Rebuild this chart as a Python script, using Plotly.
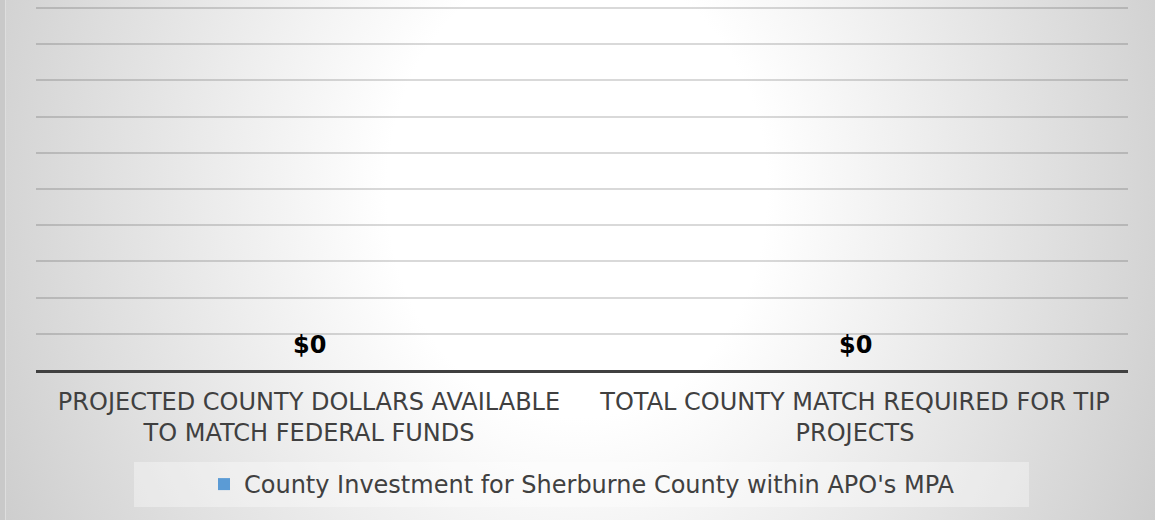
import base64
import plotly.graph_objects as go

categories = ["PROJECTED COUNTY DOLLARS AVAILABLE<br>TO MATCH FEDERAL FUNDS",
              "TOTAL COUNTY MATCH REQUIRED FOR TIP<br>PROJECTS"]
values = [0, 0]
value_labels = ["$0", "$0"]
series_name = "County Investment for Sherburne County within APO's MPA"

W, H = 1155, 520
ML, MR, MT, MB = 36, 27, 0, 150
PW = W - ML - MR
PH = H - MT - MB

svg = f'''<svg xmlns="http://www.w3.org/2000/svg" width="{W}" height="{H}" viewBox="0 0 {W} {H}">
<defs><radialGradient id="g" gradientUnits="userSpaceOnUse" cx="577" cy="190" r="760"
 gradientTransform="translate(577 190) scale(1 1.2) translate(-577 -190)">
<stop offset="0" stop-color="#ffffff"/><stop offset="0.25" stop-color="#ffffff"/>
<stop offset="1" stop-color="#c0c0c0"/></radialGradient></defs>
<rect width="{W}" height="{H}" fill="url(#g)"/>
<rect x="0" y="0" width="5" height="{H}" fill="#c9c9c9"/>
<rect x="5" y="0" width="1" height="{H}" fill="#dedede"/>
</svg>'''
bg = "data:image/svg+xml;base64," + base64.b64encode(svg.encode()).decode()

font = "Verdana, DejaVu Sans, sans-serif"

fig = go.Figure()
fig.add_trace(go.Bar(x=categories, y=values, name=series_name,
                     marker=dict(color="#5b9bd5", line=dict(width=0)),
                     showlegend=True))
for cat, val, lab in zip(categories, values, value_labels):
    fig.add_annotation(x=cat, y=val, text=lab, showarrow=False, yanchor="bottom",
                       yshift=9, font=dict(family=font, size=24, color="#000000", weight="bold"))

step_px = 36.2
fig.update_layout(
    width=W, height=H,
    margin=dict(l=ML, r=MR, t=MT, b=MB, pad=0),
    paper_bgcolor="rgba(0,0,0,0)", plot_bgcolor="rgba(0,0,0,0)",
    font=dict(family=font, color="#404040"),
    images=[dict(source=bg, xref="paper", yref="paper",
                 x=-ML / PW, y=1 + MT / PH, sizex=W / PW, sizey=H / PH,
                 xanchor="left", yanchor="top", sizing="stretch", layer="below")],
    shapes=[dict(type="rect", xref="paper", yref="paper", layer="below",
                 x0=(134 - ML) / PW, x1=(1029 - ML) / PW,
                 y0=(PH - (462 - MT)) / PH, y1=(PH - (507 - MT)) / PH,
                 fillcolor="rgba(255,255,255,0.35)", line=dict(width=0))],
    legend=dict(orientation="h", x=0.5, xanchor="center",
                y=(PH - (484.5 - MT)) / PH, yanchor="middle",
                bgcolor="rgba(0,0,0,0)", font=dict(family=font, size=24, color="#404040")),
    xaxis=dict(showline=True, linewidth=3, linecolor="#404040", ticks="",
               tickfont=dict(family=font, size=24, color="#404040"),
               ticklabelstandoff=8, showgrid=False, fixedrange=True),
    yaxis=dict(range=[0, PH / step_px], dtick=1, showticklabels=False, zeroline=False,
               showgrid=True, gridcolor="rgba(0,0,0,0.15)", gridwidth=1.5, fixedrange=True),
    bargap=0.3,
)

fig.write_html("out.html", config={"displayModeBar": False},
               post_script="document.body.style.margin='0';")
